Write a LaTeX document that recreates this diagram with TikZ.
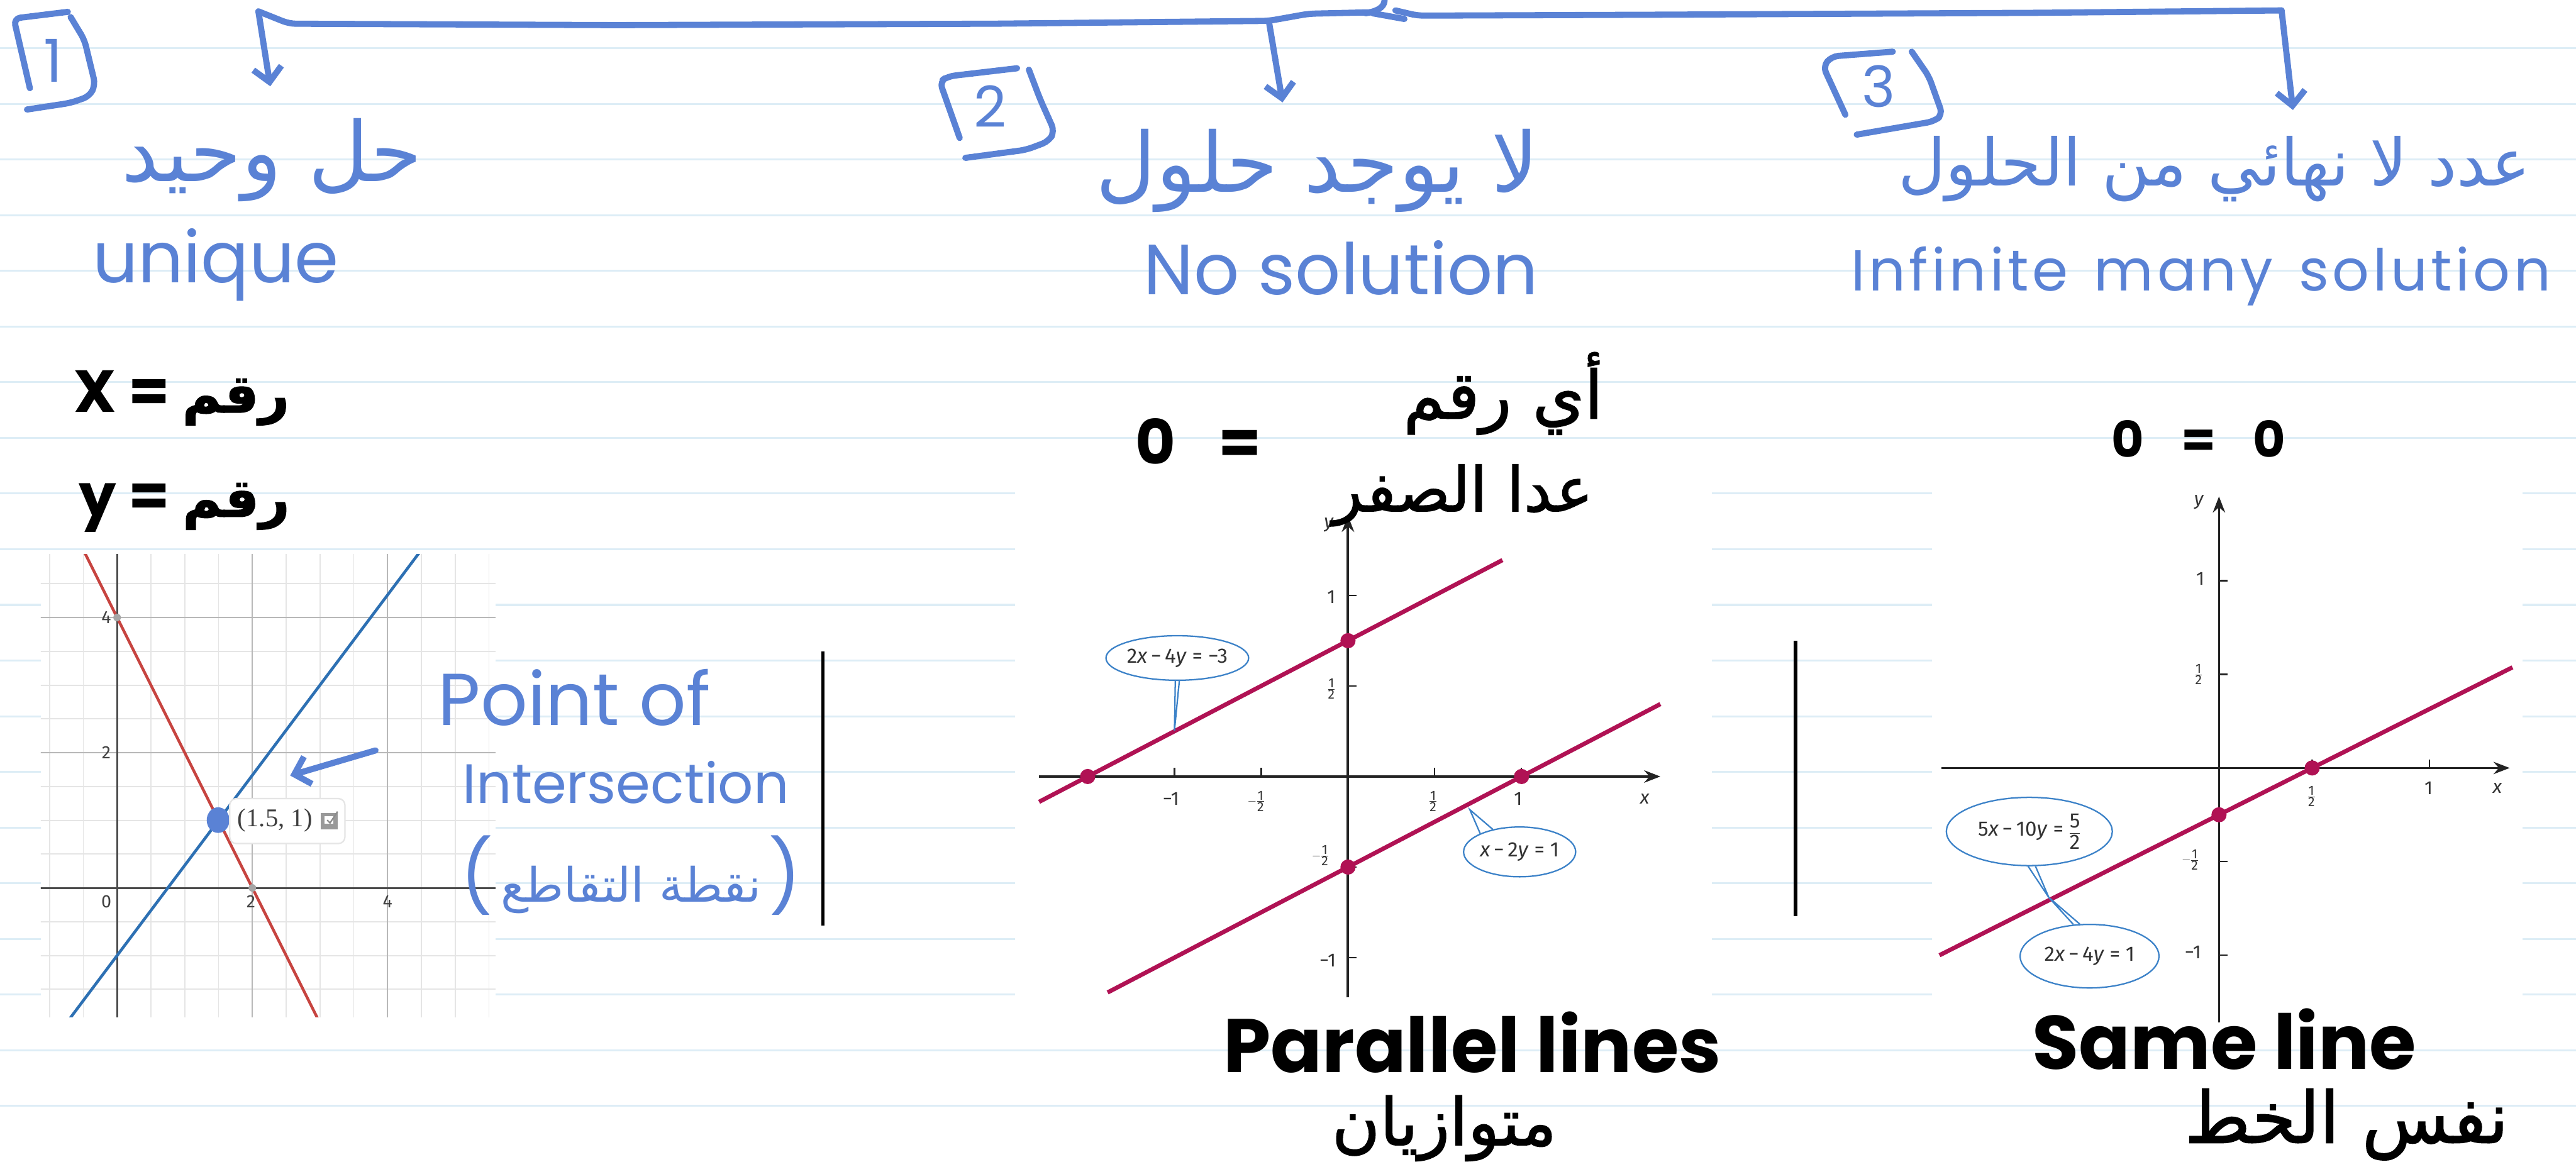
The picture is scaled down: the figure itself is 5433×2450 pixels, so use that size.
\documentclass[tikz,border=0pt]{standalone}
\usepackage{amsmath}
\usepackage{fontspec}
\setmainfont{Poppins}
\setsansfont{Fira Sans}
\newfontfamily\arabicfont[Script=Arabic]{DejaVu Sans}
\newfontfamily\arabicink[Script=Arabic,FakeBold=1.5]{DejaVu Sans}
\newfontfamily\serifnum{Liberation Serif}
\TeXXeTstate=1
\usetikzlibrary{arrows.meta,shapes.geometric}

\definecolor{handblue}{RGB}{90,130,213}
\definecolor{ruleblue}{RGB}{221,237,246}
\definecolor{desred}{RGB}{199,68,64}
\definecolor{desblue}{RGB}{45,112,179}
\definecolor{crimson}{RGB}{176,18,84}
\definecolor{callblue}{RGB}{60,130,200}
\definecolor{axisdark}{RGB}{35,35,35}

\newcommand{\fsz}[1]{\fontsize{#1}{#1}\selectfont}
\newcommand{\arab}[1]{{\arabicfont\beginR#1\endR}}
\newcommand{\arabk}[1]{{\arabicink\beginR#1\endR}}
\newcommand{\frc}[2]{$\frac{\textsf{#1}}{\textsf{#2}}$}
\newcommand{\nfrc}[2]{$-\frac{\textsf{#1}}{\textsf{#2}}$}

\begin{document}
\begin{tikzpicture}[
        x=1pt, y=-1pt,
        rule/.style={draw=ruleblue, line width=4pt},
        pen/.style={draw=handblue, line width=13pt, line cap=round, line join=round, rounded corners=14pt},
        handarrow/.style={-{Straight Barb[length=30pt,width=60pt]}},
        handtxt/.style={text=handblue, inner sep=0pt},
        ink/.style={text=black, inner sep=0pt, font=\bfseries},
        inkline/.style={draw=black, line width=7pt},
        gridminor/.style={draw=black!10, line width=2.5pt},
        gridmajor/.style={draw=black!28, line width=3pt},
        desaxis/.style={draw=black!70, line width=4pt},
        deslbl/.style={font=\sffamily\fsz{38}, text=black!75, inner sep=0pt},
        axisdk/.style={draw=axisdark, line width=5.5pt},
        axisarrow/.style={-{Stealth[length=34pt,width=26pt]}},
        tick/.style={font=\sffamily\fsz{40}, text=black!80, inner sep=0pt},
        crimline/.style={draw=crimson, line width=9pt},
        callout/.style={ellipse, draw=callblue, line width=3pt, fill=white, inner sep=0pt, font=\sffamily\fsz{44}, text=black!80},
        callline/.style={draw=callblue, line width=3pt},
    ]

    \useasboundingbox (0,0) rectangle (5433,2450);
    \fill[white] (0,0) rectangle (5433,2450);

    %====================== ruled paper ======================
    \foreach \k in {0,...,19} {
        \draw[rule] (0,{102+117.4*\k}) -- (5433,{102+117.4*\k});
    }

    %====================== bracket over the three cases ======================
    \coordinate (brL) at (545,24);
    \coordinate (brM) at (2676,44);
    \coordinate (brR) at (4812,22);
    \coordinate (tipA) at (570,182);
    \coordinate (tipB) at (2705,216);
    \coordinate (tipC) at (4836,232);

    \draw[pen] (brL) -- (610,50) -- (1300,53) -- (2100,50) -- (brM) -- (2760,29) -- (2890,26);
    \draw[pen, rounded corners=0pt] (2880,28) .. controls (2912,22) and (2922,12) .. (2920,-5);
    \draw[pen] (2895,28) -- (2962,40);
    \draw[pen] (2943,22) -- (2990,33) -- (3500,31) -- (4300,27) -- (brR);
    \draw[pen, handarrow] (brL) -- (tipA);
    \draw[pen, handarrow] (brM) -- (tipB);
    \draw[pen, handarrow] (brR) -- (tipC);

    %====================== case 1 : unique ======================
    \draw[pen] (63,186) -- (29,39) -- (143,25);
    \draw[pen] (149,36) -- (178,84) -- (201,179) -- (189,203) -- (149,217) -- (57,231);
    \node[handtxt, font=\fsz{125}] (num1) at (112,128) {1};

    \node[handtxt, font=\fsz{175}] (head1) at (574,338) {\arab{حل وحيد}};
    \node[handtxt, font=\fsz{150}, anchor=base west] (eng1) at (195,596) {unique};

    \node[ink, font=\bfseries\fsz{125}, anchor=base west] (solx) at (155,870) {X = {\fsz{112}\arabk{رقم}}};
    \node[ink, font=\bfseries\fsz{125}, anchor=base west] (soly) at (166,1090) {y = {\fsz{112}\arabk{رقم}}};

    % desmos graph
    \fill[white] (86,1169) rectangle (1045,2146);
    \begin{scope}
        \clip (86,1169) rectangle (1045,2146);
        \begin{scope}[shift={(247,1873)}, x=142.6pt, y=142.6pt]
            \draw[gridminor, step=0.5] (-1.5,-2.5) grid (6,5.5);
            \draw[gridmajor, step=2] (-2,-4) grid (6,6);
            \draw[desaxis] (-1.5,0) -- (6,0);
            \draw[desaxis] (0,-2.5) -- (0,5.5);
            \draw[desred, line width=6pt] (-0.6,5.2) -- (3.1,-2.2);
            \draw[desblue, line width=6pt] (-0.9,-2.2) -- (4.65,5.2);
            \fill[black!35] (0,4) circle (8pt) (2,0) circle (8pt);
            \node[deslbl] (lx0) at (-0.16,-0.2) {0};
            \node[deslbl] (lx2) at (1.98,-0.2) {2};
            \node[deslbl] (lx4) at (4,-0.2) {4};
            \node[deslbl] (ly2) at (-0.16,2) {2};
            \node[deslbl] (ly4) at (-0.16,4) {4};
        \end{scope}
    \end{scope}

    \fill[handblue] (460,1730) ellipse (24 and 27);
    \node[draw=black!10, line width=3pt, fill=white, rounded corners=14pt, minimum width=243pt, minimum height=95pt] (ptbox) at (606,1732) {};
    \node[font=\serifnum\fsz{54}, text=black!75, inner sep=0pt] (ptlbl) at (580,1730) {(1.5, 1)};
    \fill[black!40] (677,1715) rectangle (712,1750);
    \fill[white] (684,1721) rectangle (703,1738);
    \draw[black!45, line width=3pt] (690,1730) -- (696,1736) -- (712,1712);

    \coordinate (poiTail) at (792,1583);
    \coordinate (poiTip) at (612,1636);
    \draw[pen, handarrow] (poiTail) -- (poiTip);

    \node[handtxt, font=\fsz{155}, anchor=base west] (poi1) at (924,1530) {Point of};
    \node[handtxt, font=\fsz{117}, anchor=base west] (poi2) at (976,1694) {Intersection};
    \node[handtxt, font=\fsz{100}] (poi3) at (1331,1846) {{\fsz{150}(}\,\arab{نقطة التقاطع}\,{\fsz{150})}};

    \draw[inkline] (1736,1374) -- (1736,1952);

    %====================== case 2 : no solution ======================
    \draw[pen] (2024,291) -- (1982,172) -- (2000,161) -- (2145,144);
    \draw[pen] (2170,147) -- (2194,210) -- (2224,277) -- (2212,298) -- (2164,316) -- (2036,333);
    \node[handtxt, font=\fsz{120}] (num2) at (2088,225) {2};

    \node[handtxt, font=\fsz{175}] (head2) at (2778,360) {\arab{لا يوجد حلول}};
    \node[handtxt, font=\fsz{150}, anchor=base west] (eng2) at (2412,621) {No solution};

    \fill[white] (2141,990) rectangle (3610,2140);
    \begin{scope}[shift={(2843,1638)}, x=366pt, y=382pt]
        \draw[axisdk, axisarrow] (-1.78,0) -- (1.8,0);
        \draw[axisdk, axisarrow] (0,-1.22) -- (0,1.44);
        \foreach \t in {-1,-0.5,0.5,1} {
            \draw[axisdk, line width=3pt] (\t,0) -- ++(0,18pt);
            \draw[axisdk, line width=3pt] (0,\t) -- ++(18pt,0);
        }
        \draw[crimline] (-1.78,-0.14) -- (0.89,1.195);
        \draw[crimline] (-1.385,-1.1925) -- (1.80,0.40);
        \fill[crimson] (-1.5,0) circle (16pt) (0,0.75) circle (16pt) (0,-0.5) circle (16pt) (1,0) circle (16pt);
        \node[tick] (mxa) at (-1.02,-0.123) {−1};
        \node[tick] (mxb) at (-0.53,-0.136) {\nfrc{1}{2}};
        \node[tick] (mxc) at (0.49,-0.136) {\frc{1}{2}};
        \node[tick] (mxd) at (0.98,-0.123) {1};
        \node[tick] (mxl) at (1.71,-0.123) {\textit{x}};
        \node[tick] (mya) at (-0.096,0.99) {1};
        \node[tick] (myb) at (-0.096,0.484) {\frc{1}{2}};
        \node[tick] (myc) at (-0.16,-0.437) {\nfrc{1}{2}};
        \node[tick] (myd) at (-0.117,-1.016) {−1};
        \node[tick] (myl) at (-0.11,1.39) {\textit{y}};
    \end{scope}

    \node[callout, minimum width=258pt, minimum height=94pt] (eqA) at (2483,1388) {2\textit{x}\,−\,4\textit{y} = −3};
    \coordinate (eqAtip) at (2477,1541);
    \draw[callline] (eqA.-95) -- (eqAtip) -- (eqA.-85);
    \node[callout, minimum width=222pt, minimum height=105pt] (eqB) at (3205,1797) {\textit{x}\,−\,2\textit{y} = 1};
    \coordinate (eqBtip) at (3100,1708);
    \draw[callline] (eqB.140) -- (eqBtip) -- (eqB.155);

    \node[ink, font=\bfseries\fsz{130}, anchor=base west] (zeroL) at (2394,979) {0\hspace{0.7em}=};
    \node[ink, font=\fsz{140}, anchor=east] (anynum) at (3381,830) {\arabk{أي رقم}};
    \node[ink, font=\fsz{130}, anchor=east] (notzero) at (3360,1045) {\arabk{عدا الصفر}};

    \node[ink, font=\bfseries\fsz{160}, anchor=base west] (par1) at (2580,2262) {Parallel lines};
    \node[ink, font=\fsz{138}] (par2) at (3046,2380) {\arabk{متوازيان}};

    \draw[inkline] (3787,1351) -- (3787,1933);

    %====================== case 3 : infinitely many ======================
    \draw[pen] (3892,242) -- (3845,140) -- (3863,119) -- (3992,109);
    \draw[pen] (4032,109) -- (4068,161) -- (4097,242) -- (4079,256) -- (3916,284);
    \node[handtxt, font=\fsz{120}] (num3) at (3962,182) {3};

    \node[handtxt, font=\fsz{138}] (head3) at (4670,356) {\arab{عدد لا نهائي من الحلول}};
    \node[handtxt, font={\fsz{122}\addfontfeatures{LetterSpace=6}}, anchor=base west] (eng3) at (3904,614) {\spaceskip=0.45em Infinite many solution};

    \fill[white] (4075,990) rectangle (5320,2170);
    \begin{scope}[shift={(4680,1620)}, x=393pt, y=395pt]
        \draw[axisdk, line width=4pt, axisarrow] (-1.49,0) -- (1.56,0);
        \draw[axisdk, line width=4pt, axisarrow] (0,-1.36) -- (0,1.45);
        \foreach \t in {-1,-0.5,0.5,1} {
            \draw[axisdk, line width=3pt] (0,\t) -- ++(18pt,0);
        }
        \draw[axisdk, line width=3pt] (0.5,0) -- ++(0,18pt);
        \draw[axisdk, line width=3pt] (1.13,0) -- ++(0,18pt);
        \draw[crimline] (-1.5,-1) -- (1.575,0.5375);
        \fill[crimson] (0,-0.25) circle (16pt) (0.5,0) circle (16pt);
        \node[tick] (rya) at (-0.10,1.01) {1};
        \node[tick] (ryb) at (-0.11,0.50) {\frc{1}{2}};
        \node[tick] (ryc) at (-0.155,-0.49) {\nfrc{1}{2}};
        \node[tick] (ryd) at (-0.14,-0.985) {−1};
        \node[tick] (rxa) at (0.496,-0.152) {\frc{1}{2}};
        \node[tick] (rxb) at (1.125,-0.109) {1};
        \node[tick] (rxl) at (1.494,-0.109) {\textit{x}};
        \node[tick] (ryl) at (-0.107,1.418) {\textit{y}};
    \end{scope}

    \coordinate (eqCDtip) at (4321,1893);
    \node[callout, minimum width=350pt, minimum height=144pt] (eqC) at (4280,1754) {5\textit{x}\,−\,10\textit{y} = $\dfrac{\textsf{5}}{\textsf{2}}$};
    \node[callout, minimum width=293pt, minimum height=134pt] (eqD) at (4407,2017) {2\textit{x}\,−\,4\textit{y} = 1};
    \draw[callline] (eqC.-92) -- (eqCDtip) -- (eqC.-80);
    \draw[callline] (eqD.107) -- (eqCDtip) -- (eqD.117);

    \node[ink, font=\bfseries\fsz{105}, anchor=base west] (zeroR) at (4453,965) {0\hspace{0.75em}=\hspace{0.75em}0};

    \node[ink, font=\bfseries\fsz{160}, anchor=base west] (same1) at (4286,2255) {Same line};
    \node[ink, font=\fsz{150}] (same2) at (4949,2372) {\arabk{نفس الخط}};

\end{tikzpicture}
\end{document}
